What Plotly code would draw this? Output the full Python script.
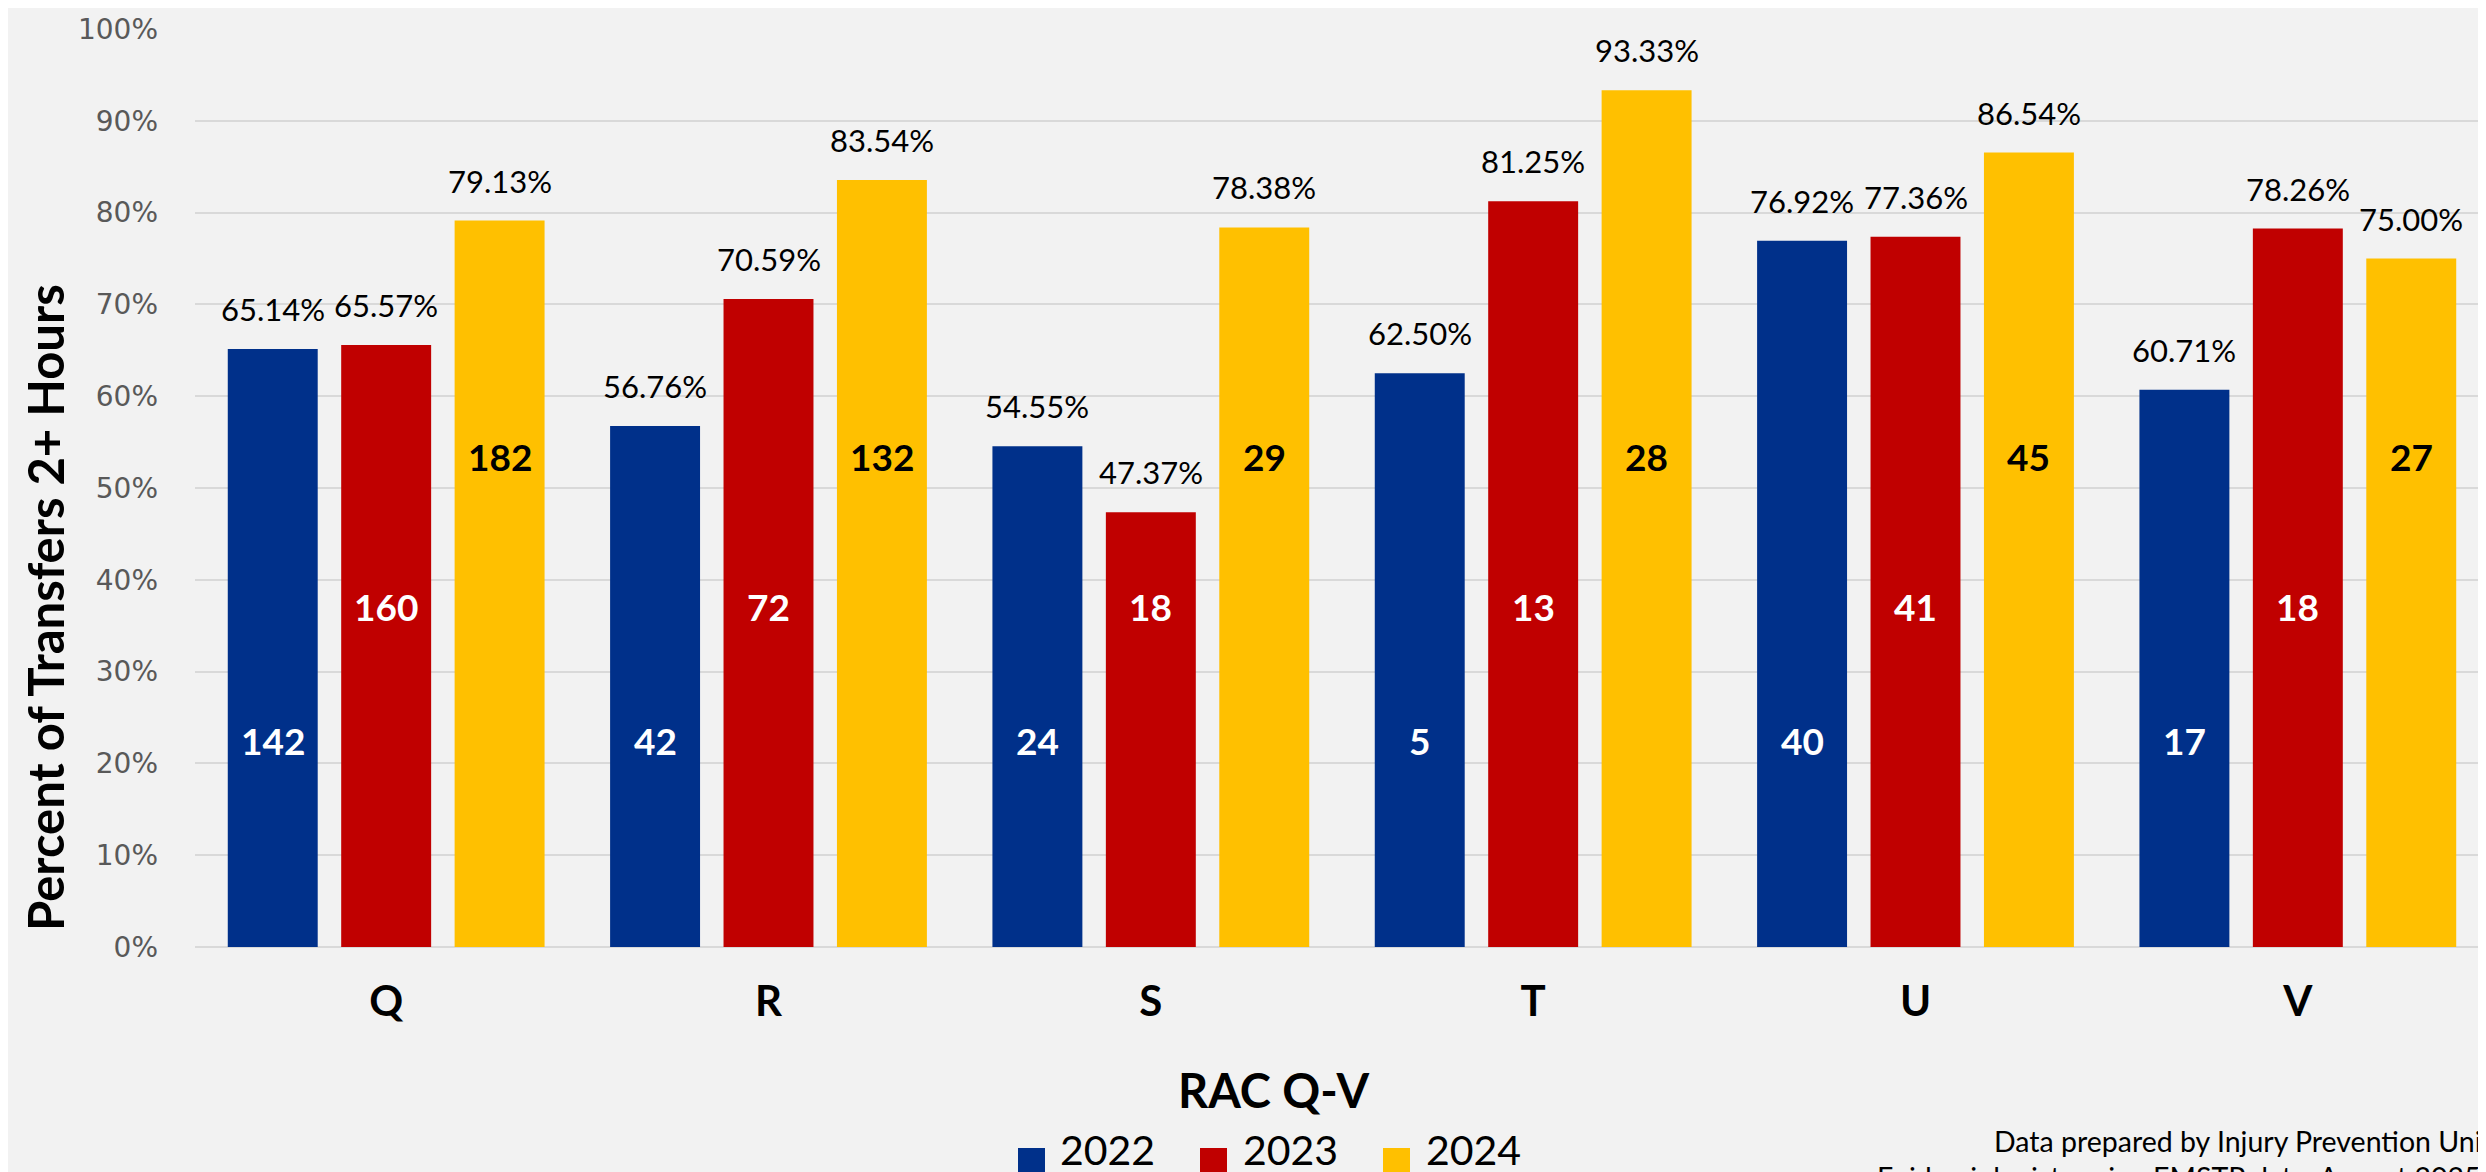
import plotly.graph_objects as go

# ---------------- data ----------------
categories = ["Q", "R", "S", "T", "U", "V"]
years = ["2022", "2023", "2024"]
pct_2022 = [65.14, 56.76, 54.55, 62.50, 76.92, 60.71]
pct_2023 = [65.57, 70.59, 47.37, 81.25, 77.36, 78.26]
pct_2024 = [79.13, 83.54, 78.38, 93.33, 86.54, 75.00]
n_2022 = [142, 42, 24, 5, 40, 17]
n_2023 = [160, 72, 18, 13, 41, 18]
n_2024 = [182, 132, 29, 28, 45, 27]
y_ticks = [0, 10, 20, 30, 40, 50, 60, 70, 80, 90, 100]

pcts = [pct_2022, pct_2023, pct_2024]
counts = [n_2022, n_2023, n_2024]

# ---------------- style ----------------
W, H = 2486, 1172
ML, MR, MT, MB = 187, 5, 21, 233
colors = ["#00308A", "#C00000", "#FFC000"]
count_colors = ["white", "white", "black"]
count_levels = [21.5, 36.1, 52.5]   # label heights (in % units) as placed in the original
BARGAP = 0.11
BARGROUPGAP = 0.207
FONT = "Lato"

plot_w = W - ML - MR
plot_h = H - MT - MB
slot = plot_w / len(categories) * (1 - BARGAP) / len(years)


def px_x(px):
    return (px - ML) / plot_w


def px_y(py):
    return (H - MB - py) / plot_h


fig = go.Figure()
for i, yr in enumerate(years):
    fig.add_trace(go.Bar(
        x=categories, y=pcts[i], name=yr,
        marker=dict(color=colors[i], line=dict(width=0)),
        showlegend=False, hoverinfo="x+y+name",
    ))

annotations = []
for i in range(len(years)):
    off = (i - 1) * slot
    for j, c in enumerate(categories):
        annotations.append(dict(
            x=c, y=pcts[i][j], xref="x", yref="y", xshift=off, yshift=40,
            text=f"{pcts[i][j]:.2f}%", showarrow=False, yanchor="middle",
            font=dict(family=FONT, size=31, color="black"),
        ))
        annotations.append(dict(
            x=c, y=count_levels[i], xref="x", yref="y", xshift=off, yshift=9,
            text=f"<b>{counts[i][j]}</b>", showarrow=False, yanchor="middle",
            font=dict(family=FONT, size=37, color=count_colors[i]),
        ))

# axis titles
annotations.append(dict(
    x=px_x(37), y=px_y(600), xref="paper", yref="paper",
    text="<b>Percent of Transfers 2+ Hours</b>", textangle=-90, showarrow=False,
    xanchor="center", yanchor="middle",
    font=dict(family=FONT, size=49, color="black"),
))
annotations.append(dict(
    x=px_x(1265), y=px_y(1082), xref="paper", yref="paper",
    text="<b>RAC Q-V</b>", showarrow=False, xanchor="center", yanchor="middle",
    font=dict(family=FONT, size=47, color="black"),
))

# legend (drawn manually for large swatches)
shapes = []
legend_sq_x = [1010, 1192, 1375]
legend_txt_x = [1050, 1233, 1416]
for i, yr in enumerate(years):
    x0 = legend_sq_x[i]
    shapes.append(dict(type="rect", xref="paper", yref="paper",
                       x0=px_x(x0), x1=px_x(x0 + 27), y0=px_y(1167), y1=px_y(1140),
                       fillcolor=colors[i], line=dict(width=0)))
    annotations.append(dict(
        x=px_x(legend_txt_x[i]), y=px_y(1141), xref="paper", yref="paper",
        text=yr, showarrow=False, xanchor="left", yanchor="middle",
        font=dict(family=FONT, size=41, color="black"),
    ))

# footnote
annotations.append(dict(
    x=px_x(1984), y=px_y(1133), xref="paper", yref="paper",
    text="Data prepared by Injury Prevention Unit", showarrow=False,
    xanchor="left", yanchor="middle",
    font=dict(family=FONT, size=28.5, color="black"),
))
annotations.append(dict(
    x=px_x(1867), y=px_y(1169), xref="paper", yref="paper",
    text="Epidemiologists using EMSTP data, August 2025", showarrow=False,
    xanchor="left", yanchor="middle",
    font=dict(family=FONT, size=28.5, color="black"),
))

fig.update_layout(
    width=W, height=H, autosize=False,
    margin=dict(l=ML, r=MR, t=MT, b=MB, pad=0),
    paper_bgcolor="#F2F2F2", plot_bgcolor="#F2F2F2",
    barmode="group", bargap=BARGAP, bargroupgap=BARGROUPGAP,
    showlegend=False,
    annotations=annotations, shapes=shapes,
    xaxis=dict(
        type="category", categoryarray=categories, categoryorder="array",
        showgrid=False, zeroline=False, showline=False, ticks="",
        ticklabelstandoff=26,
        tickfont=dict(family=FONT, size=42, color="black", weight="bold"),
    ),
    yaxis=dict(
        range=[0, 100], tickvals=y_ticks, ticktext=[f"{t}%" for t in y_ticks],
        showgrid=True, gridcolor="#D9D9D9", gridwidth=2,
        zeroline=True, zerolinecolor="#D9D9D9", zerolinewidth=2,
        showline=False, ticks="", ticklabelstandoff=36,
        tickfont=dict(family="DejaVu Sans", size=28, color="#595959"),
    ),
)

fig.write_html("out.html")
